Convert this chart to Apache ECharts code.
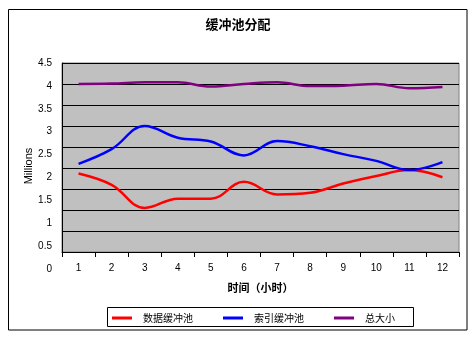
<!DOCTYPE html>
<html>
<head>
<meta charset="utf-8">
<script src="https://cdn.jsdelivr.net/npm/echarts@6/dist/echarts.min.js"></script>
<style>html,body{margin:0;padding:0;background:#fff;}#c{width:476px;height:342px;}</style>
</head>
<body>
<div id="c"></div>
<script>
var categories = ['1','2','3','4','5','6','7','8','9','10','11','12'];
var dataBuffer = [1.87, 1.60, 1.05, 1.27, 1.27, 1.67, 1.37, 1.41, 1.63, 1.81, 1.95, 1.78];
var indexBuffer = [2.10, 2.45, 3.00, 2.72, 2.63, 2.30, 2.64, 2.52, 2.33, 2.17, 1.95, 2.14];
var totalSize = [4.00, 4.01, 4.04, 4.04, 3.94, 4.00, 4.04, 3.95, 3.96, 4.00, 3.90, 3.93];
var seriesNames = ['数据缓冲池', '索引缓冲池', '总大小'];
var yTicks = {min: 0, max: 4.5, interval: 0.5};

var chart = echarts.init(document.getElementById('c'), null, {renderer: 'canvas'});
var font = '"Liberation Sans", "Noto Sans CJK SC", sans-serif';
var cjk = '"Noto Sans CJK SC", sans-serif';
chart.setOption({
  animation: false,
  backgroundColor: '#ffffff',
  title: {
    text: '缓冲池分配', left: 'center', top: 13,
    textStyle: {fontSize: 13, fontWeight: 'bold', color: '#000', fontFamily: cjk}
  },
  graphic: [
    {type: 'rect', shape: {x: 8.5, y: 9.5, width: 458.5, height: 320.5}, style: {fill: 'none', stroke: '#000', lineWidth: 1}, z: -10},
    {type: 'rect', shape: {x: 107.5, y: 307.5, width: 306, height: 19}, style: {fill: '#fff', stroke: '#000', lineWidth: 1}, z: 0}
  ],
  legend: {
    left: 107, top: 308, itemGap: 30, itemWidth: 20, itemHeight: 3, icon: 'rect',
    textStyle: {fontSize: 10, color: '#000', fontFamily: cjk, padding: [0, 0, 0, 6]},
    data: seriesNames, z: 5
  },
  grid: [
    {left: 62, top: 63, width: 397, height: 189, show: true, backgroundColor: '#C0C0C0', borderColor: '#808080', borderWidth: 1},
    {left: 62, top: 63, width: 397, height: 206, show: false}
  ],
  xAxis: [
    {
      type: 'category', data: categories, gridIndex: 0, boundaryGap: true,
      name: '时间（小时）', nameLocation: 'middle', nameGap: 30,
      nameTextStyle: {fontSize: 11, fontWeight: 'bold', color: '#000', fontFamily: cjk},
      axisLine: {lineStyle: {color: '#000', width: 1}},
      axisTick: {show: true, length: 5, inside: false, lineStyle: {color: '#000'}},
      axisLabel: {fontSize: 10, color: '#000', margin: 11, fontFamily: font},
      splitLine: {show: false}
    },
    {type: 'category', data: categories, gridIndex: 1, show: false}
  ],
  yAxis: [
    {
      type: 'value', gridIndex: 0, min: yTicks.min, max: yTicks.max, interval: yTicks.interval,
      axisLine: {show: true, lineStyle: {color: '#000'}},
      axisTick: {show: false},
      axisLabel: {show: false},
      splitLine: {show: true, lineStyle: {color: '#000', width: 1}}
    },
    {
      type: 'value', gridIndex: 1, min: yTicks.min, max: yTicks.max, interval: yTicks.interval,
      name: 'Millions', nameLocation: 'middle', nameGap: 28, nameMoveOverlap: false,
      nameTextStyle: {fontSize: 11, color: '#000', fontFamily: font},
      axisLine: {show: false}, axisTick: {show: false}, splitLine: {show: false},
      axisLabel: {fontSize: 10, color: '#000', margin: 10, fontFamily: font}
    }
  ],
  series: [
    {name: seriesNames[0], type: 'line', data: dataBuffer, smooth: 0.4, symbol: 'none', color: '#FF0000', lineStyle: {width: 2.5, color: '#FF0000'}},
    {name: seriesNames[1], type: 'line', data: indexBuffer, smooth: 0.4, symbol: 'none', color: '#0000FF', lineStyle: {width: 2.5, color: '#0000FF'}},
    {name: seriesNames[2], type: 'line', data: totalSize, smooth: 0.4, symbol: 'none', color: '#800080', lineStyle: {width: 2.5, color: '#800080'}}
  ]
});
</script>
</body>
</html>
